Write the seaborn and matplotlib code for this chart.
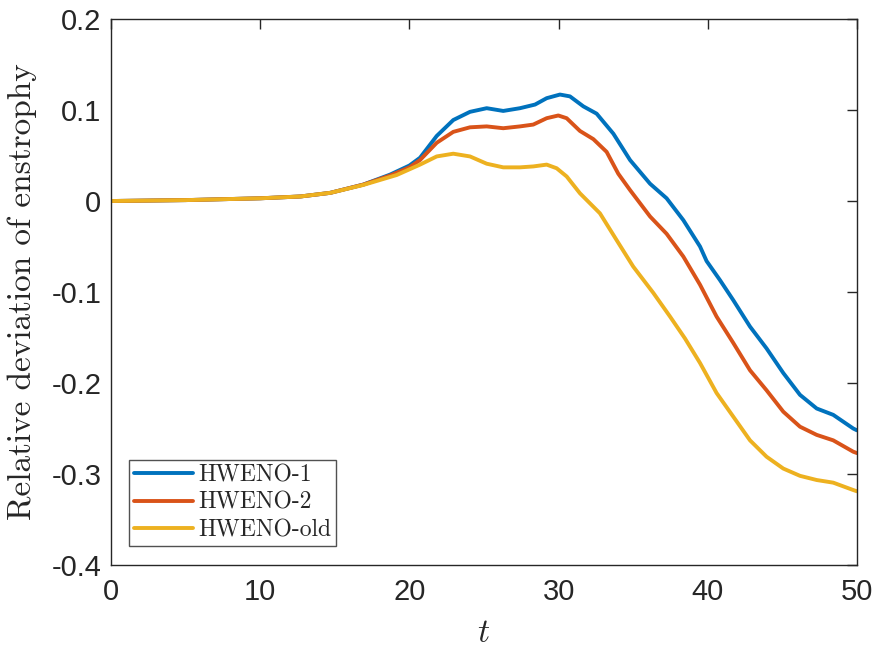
import matplotlib
matplotlib.use("Agg")
import matplotlib.pyplot as plt
from matplotlib.lines import Line2D
import seaborn as sns
import pandas as pd

t_h1 = [0, 5, 10, 12.7, 14.7, 16.9, 18.7, 20.0, 20.71, 21.83, 22.94, 24.06, 25.18, 26.29, 27.41, 28.42,
        29.2, 30.09, 30.76, 31.66, 32.55, 33.67, 34.79, 36.13, 37.24, 38.36, 39.48, 39.92, 40.82, 41.71,
        42.83, 43.94, 45.06, 46.18, 47.3, 48.41, 49.75, 50]
y_h1 = [0.0, 0.001, 0.003, 0.005, 0.009, 0.018, 0.029, 0.039, 0.0475, 0.0715, 0.089, 0.098, 0.102, 0.099, 0.102, 0.106,
        0.113, 0.117, 0.115, 0.104, 0.096, 0.074, 0.045, 0.019, 0.003, -0.021, -0.050, -0.066, -0.087, -0.109,
        -0.138, -0.162, -0.189, -0.213, -0.228, -0.235, -0.250, -0.252]

t_h2 = [0, 5, 10, 12.7, 14.7, 16.9, 18.7, 20.0, 20.71, 21.83, 22.94, 24.06, 25.18, 26.29, 27.41, 28.3,
        29.2, 29.98, 30.54, 31.43, 32.33, 33.22, 34.0, 34.79, 36.13, 37.24, 38.36, 39.48, 40.59, 41.71,
        42.83, 43.94, 45.06, 46.18, 47.3, 48.41, 49.75, 50]
y_h2 = [0.0, 0.001, 0.003, 0.005, 0.009, 0.018, 0.028, 0.037, 0.045, 0.064, 0.076, 0.081, 0.082, 0.080, 0.082, 0.084,
        0.091, 0.094, 0.091, 0.077, 0.068, 0.054, 0.030, 0.012, -0.017, -0.036, -0.061, -0.092, -0.127, -0.156,
        -0.186, -0.208, -0.2315, -0.248, -0.257, -0.263, -0.2755, -0.277]

t_old = [0, 5, 10, 12.7, 14.7, 16.9, 19.15, 20.71, 21.83, 22.94, 24.06, 25.18, 26.29, 27.41, 28.3, 29.2,
         29.87, 30.54, 31.43, 32.77, 33.89, 35.0, 36.35, 37.47, 38.47, 39.48, 40.59, 41.71, 42.83, 43.94,
         45.06, 46.18, 47.3, 48.41, 49.75, 50]
y_old = [0.0, 0.001, 0.003, 0.005, 0.009, 0.0176, 0.0286, 0.040, 0.049, 0.052, 0.049, 0.041, 0.037, 0.037, 0.038, 0.040,
         0.036, 0.027, 0.0085, -0.0135, -0.043, -0.072, -0.101, -0.127, -0.151, -0.178, -0.211, -0.237, -0.263, -0.281,
         -0.294, -0.302, -0.3066, -0.3095, -0.3176, -0.319]

names = ["HWENO-1", "HWENO-2", "HWENO-old"]
colors = ["#0072BD", "#D95319", "#EDB120"]
x_ticks = [0, 10, 20, 30, 40, 50]
y_ticks = [-0.4, -0.3, -0.2, -0.1, 0, 0.1, 0.2]
y_tick_labels = ["-0.4", "-0.3", "-0.2", "-0.1", "0", "0.1", "0.2"]
x_label = "$t$"
y_label = "Relative deviation of enstrophy"

df = pd.concat([
    pd.DataFrame({"t": t_h1, "y": y_h1, "scheme": names[0]}),
    pd.DataFrame({"t": t_h2, "y": y_h2, "scheme": names[1]}),
    pd.DataFrame({"t": t_old, "y": y_old, "scheme": names[2]}),
])

sns.set_style("white")
plt.rcParams["font.family"] = ["Liberation Sans", "DejaVu Sans"]
plt.rcParams["mathtext.fontset"] = "cm"
plt.rcParams["axes.unicode_minus"] = False

fig = plt.figure(figsize=(8.75, 6.56), dpi=100)
ax = fig.add_axes([0.1269, 0.1387, 0.8525, 0.8323])
sns.lineplot(data=df, x="t", y="y", hue="scheme", palette=colors, hue_order=names,
             linewidth=2.8, sort=False, estimator=None, ax=ax, legend=False)

ax.set_xlim(0, 50)
ax.set_ylim(-0.4, 0.2)
ax.set_xticks(x_ticks)
ax.set_yticks(y_ticks)
ax.set_yticklabels(y_tick_labels)
ax.tick_params(direction="in", length=7, width=1, top=True, right=True,
               labelsize=21, colors="#262626")
ax.tick_params(axis="x", pad=9)
ax.tick_params(axis="y", pad=7)
for s in ax.spines.values():
    s.set_color("#262626")
    s.set_linewidth(1)

ax.set_xlabel(x_label, fontsize=24, labelpad=9)
ax.set_ylabel(y_label, fontsize=24, family="cmr10", labelpad=10)

handles = [Line2D([], [], color=c, lw=2.8) for c in colors]
leg = ax.legend(handles, names, loc="lower left", bbox_to_anchor=(0.024, 0.035),
                prop={"family": "cmr10", "size": 17}, frameon=True,
                fancybox=False, edgecolor="#262626", handlelength=2.5, handletextpad=0.25,
                borderpad=0.2, labelspacing=0.22, borderaxespad=0)
leg.get_frame().set_linewidth(1)

fig.savefig("out.png", dpi=100)
